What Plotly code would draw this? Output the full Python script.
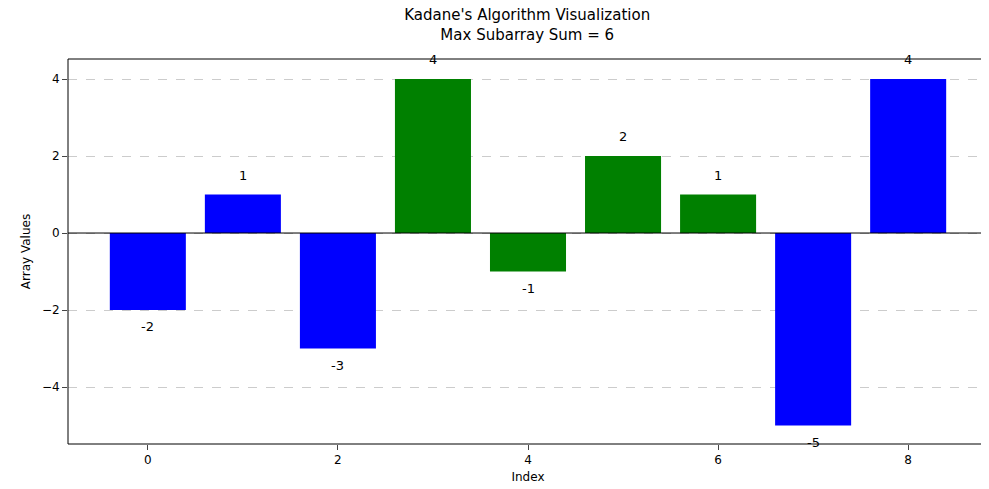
import plotly.graph_objects as go

indices = list(range(9))
values = [-2, 1, -3, 4, -1, 2, 1, -5, 4]
colors = ["blue", "blue", "blue", "green", "green", "green", "green", "blue", "blue"]
max_sum = 6

fig = go.Figure(go.Bar(x=indices, y=values, marker_color=colors, width=0.8, marker_line_width=0))
for i, v in zip(indices, values):
    fig.add_annotation(x=i, y=(v + 0.5) if v > 0 else (v - 0.43), text=str(v), showarrow=False,
                       font=dict(size=13, color="black"), yanchor="middle")
fig.add_shape(type="line", xref="paper", x0=0, x1=1, y0=0, y1=0, line=dict(color="black", width=1))
fig.add_shape(type="rect", xref="paper", yref="paper", x0=0, x1=1, y0=0, y1=1,
              line=dict(color="black", width=1), layer="above")
fig.update_layout(
    width=989, height=489, plot_bgcolor="white", paper_bgcolor="white",
    margin=dict(l=60, r=9, t=51, b=53, autoexpand=False),
    font=dict(family="DejaVu Sans", size=12, color="black"),
    title=dict(text=f"Kadane's Algorithm Visualization<br>Max Subarray Sum = {max_sum}",
               x=0.525, xanchor="center", y=0.975, yanchor="top", font=dict(size=15)),
    showlegend=False,
)
fig.update_xaxes(title_text="Index", title_font_size=12, range=[-0.84, 8.84], tickvals=[0, 2, 4, 6, 8],
                 showline=False, ticks="outside", showgrid=False, zeroline=False,
                 title_standoff=6, automargin=False)
fig.update_yaxes(title_text="Array Values", title_font_size=12, range=[-5.48, 4.52], tickvals=[-4, -2, 0, 2, 4],
                 ticktext=["−4", "−2", "0", "2", "4"],
                 showline=False, ticks="outside",
                 showgrid=True, gridcolor="#cccccc", griddash="dash", zeroline=False, title_standoff=8,
                 automargin=False)
fig.write_html("out.html")
